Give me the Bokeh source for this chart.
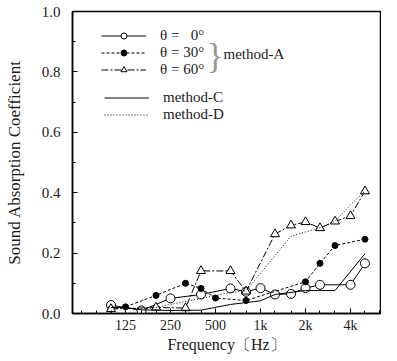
from bokeh.plotting import figure
from bokeh.models import (FixedTicker, PrintfTickFormatter, Range1d, Legend, LegendItem, Label)
from bokeh.embed import file_html
from bokeh.resources import INLINE

# ---------------- data ----------------
x_ticks = [125, 250, 500, 1000, 2000, 4000]
x_tick_labels = ["125", "250", "500", "1k", "2k", "4k"]
x_minor = [63, 80, 100, 160, 200, 315, 400, 630, 800, 1250, 1600, 2500, 3150, 5000, 6300]
y_ticks = [0.0, 0.2, 0.4, 0.6, 0.8, 1.0]
y_minor = [0.1, 0.3, 0.5, 0.7, 0.9]

f_a0 = [100, 160, 250, 400, 630, 800, 1000, 1250, 1600, 2000, 2500, 4000, 5000]
a0 = [0.028, 0.010, 0.050, 0.063, 0.083, 0.072, 0.084, 0.063, 0.065, 0.084, 0.095, 0.095, 0.166]

f_a30 = [100, 125, 200, 315, 400, 500, 800, 2000, 2500, 3150, 5000]
a30 = [0.015, 0.022, 0.060, 0.100, 0.083, 0.051, 0.043, 0.105, 0.166, 0.225, 0.246]

f_a60 = [100, 200, 315, 400, 630, 800, 1250, 1600, 2000, 2500, 3150, 4000, 5000]
a60 = [0.015, 0.020, 0.018, 0.141, 0.141, 0.073, 0.263, 0.292, 0.303, 0.283, 0.305, 0.323, 0.405]

f_c = [100, 125, 160, 250, 400, 630, 1000, 1250, 1600, 2000, 3150, 5000]
mc = [0.020, 0.020, 0.012, 0.010, 0.011, 0.030, 0.042, 0.063, 0.070, 0.076, 0.076, 0.198]

f_d = [100, 160, 200, 250, 400, 630, 800, 1600, 2500, 3150, 4000, 5000]
md = [0.020, 0.015, 0.020, 0.030, 0.050, 0.070, 0.075, 0.256, 0.284, 0.305, 0.360, 0.405]

# ---------------- layout ----------------
FW, FH = 308, 302
LEFT, TOP = 72, 11
PX_OCT = 45.0
OFF125 = 53.0
x_start = 125 / 2 ** (OFF125 / PX_OCT)
x_end = 125 * 2 ** ((FW - OFF125) / PX_OCT)

SERIF = "Liberation Serif"
TXT = "#1a1a1a"

p = figure(frame_width=FW, frame_height=FH, x_axis_type="log",
           x_range=Range1d(x_start, x_end), y_range=Range1d(0, 1.0),
           output_backend="svg", toolbar_location=None,
           min_border_left=LEFT, min_border_top=TOP, min_border_right=1,
           min_border_bottom=0)
p.grid.visible = False
p.outline_line_color = "black"
p.outline_line_width = 1.5
p.background_fill_color = "white"
p.border_fill_color = "white"

xa = p.xaxis[0]
xa.ticker = FixedTicker(ticks=x_ticks, minor_ticks=x_minor)
xa.major_label_overrides = {t: l for t, l in zip(x_ticks, x_tick_labels)}
xa.axis_label = "Frequency\u3014Hz\u3015"
xa.major_label_standoff = 4
xa.axis_label_standoff = 0

ya = p.yaxis[0]
ya.ticker = FixedTicker(ticks=y_ticks, minor_ticks=y_minor)
ya.formatter = PrintfTickFormatter(format="%.1f")
ya.axis_label = "Sound Absorption Coefficient"
ya.major_label_standoff = 12
ya.axis_label_standoff = 15

for ax in (xa, ya):
    ax.axis_line_width = 1.5
    ax.axis_line_color = "black"
    ax.major_tick_in = 5
    ax.major_tick_out = 0
    ax.minor_tick_in = 3
    ax.minor_tick_out = 0
    ax.major_tick_line_color = "black"
    ax.minor_tick_line_color = "black"
    ax.major_label_text_font = SERIF
    ax.major_label_text_font_size = "15px"
    ax.major_label_text_color = TXT
    ax.axis_label_text_font = SERIF
    ax.axis_label_text_font_size = "17px"
    ax.axis_label_text_font_style = "normal"
    ax.axis_label_text_color = TXT
xa.major_label_text_font_size = "14px"
xa.axis_label_text_font_size = "16px"

# ---------------- series ----------------
l0 = p.line(f_a0, a0, line_color="black", line_width=1)
m0 = p.scatter(f_a0, a0, marker="circle", size=9, fill_color="white", line_color="black", line_width=1)

l30 = p.line(f_a30, a30, line_color="black", line_width=1, line_dash="3 2")
m30 = p.scatter(f_a30, a30, marker="circle", size=6, fill_color="black", line_color="black")

l60 = p.line(f_a60, a60, line_color="black", line_width=1, line_dash="7 2 2 2")
m60 = p.scatter(f_a60, a60, marker="triangle", size=9, fill_color="white", line_color="black", line_width=1)

lc = p.line(f_c, mc, line_color="black", line_width=1)
ld = p.line(f_d, md, line_color="black", line_width=1, line_dash="1 2")

# ---------------- legends ----------------
ROW = 15
ROW2 = 13
leg1 = Legend(items=[
    LegendItem(label="\u03b8 = \u20070\u00b0", renderers=[l0, m0]),
    LegendItem(label="\u03b8 = 30\u00b0", renderers=[l30, m30]),
    LegendItem(label="\u03b8 = 60\u00b0", renderers=[l60, m60]),
], location=(29, FH - 22 - 3 * ROW))
leg2 = Legend(items=[
    LegendItem(label="method-C", renderers=[lc]),
    LegendItem(label="method-D", renderers=[ld]),
], location=(32, FH - 86 - 2 * ROW2))
for lg, rh in ((leg1, ROW), (leg2, ROW2)):
    lg.padding = 0
    lg.margin = 0
    lg.spacing = 0
    lg.glyph_width = 45
    lg.glyph_height = rh
    lg.label_height = rh
    lg.label_standoff = 14
    lg.label_text_font = SERIF
    lg.label_text_font_size = "15px"
    lg.label_text_color = TXT
    lg.label_text_baseline = "middle"
    lg.border_line_color = None
    lg.background_fill_alpha = 0
    p.add_layout(lg)

brace = Label(x=134, y=FH - 44, x_units="screen", y_units="screen", text="}",
              text_font=SERIF, text_font_size="36px", text_color="#999999",
              text_baseline="middle")
meth_a = Label(x=151, y=FH - 42, x_units="screen", y_units="screen", text="method-A",
               text_font=SERIF, text_font_size="15px", text_color=TXT,
               text_baseline="middle")
p.add_layout(brace)
p.add_layout(meth_a)

open("out.html", "w").write(file_html(p, INLINE))
